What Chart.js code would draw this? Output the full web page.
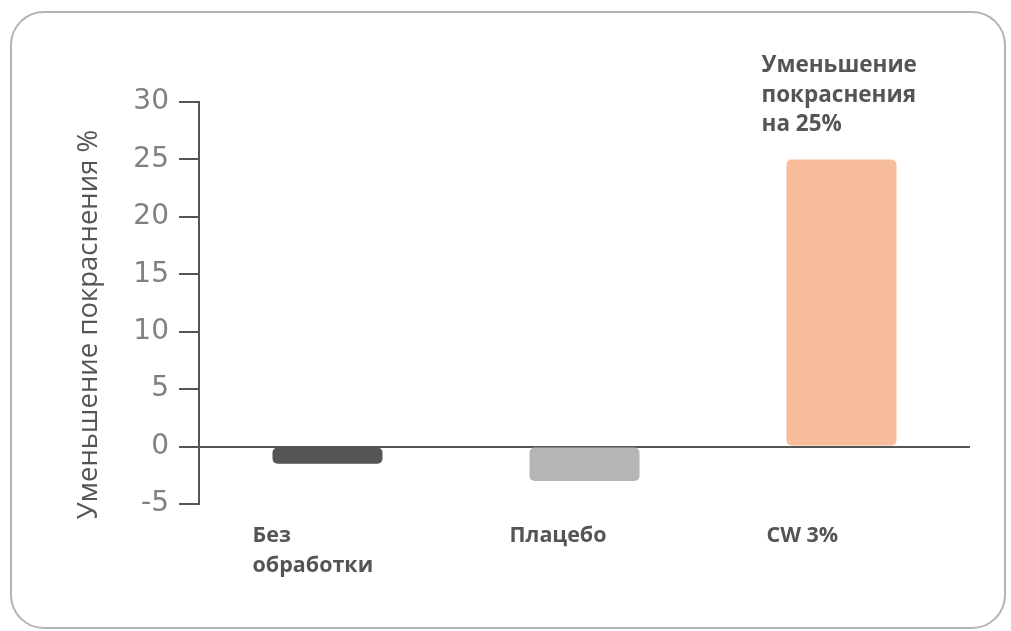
<!DOCTYPE html>
<html>
<head>
<meta charset="utf-8">
<script src="https://cdn.jsdelivr.net/npm/chart.js@4"></script>
<style>
  html, body { margin: 0; padding: 0; background: #fff; }
  #wrap { position: relative; width: 1011px; height: 631px; }
  #frame { position: absolute; left: 10px; top: 11px; width: 996px; height: 618px;
           border: 2px solid #b4b4b4; border-radius: 34px; box-sizing: border-box; }
  canvas { position: absolute; left: 0; top: 0; }
</style>
</head>
<body>
<div id="wrap">
  <div id="frame"></div>
  <canvas id="c" width="1011" height="631"></canvas>
</div>
<script>
const categories = [['Без', 'обработки'], 'Плацебо', 'CW 3%'];
const values = [-1.5, -3.0, 25];
const barColors = ['#555555', '#b5b5b5', '#f7bc9b'];
const yTicks = [30, 25, 20, 15, 10, 5, 0, -5];
const yTitle = 'Уменьшение покраснения %\u00a0\u00a0\u00a0\u00a0\u00a0\u00a0';
const annotationLines = ['Уменьшение', 'покраснения', 'на 25%'];
const annotationIndex = 2;

const annotationPlugin = {
  id: 'annot',
  afterDatasetsDraw(chart) {
    const ctx = chart.ctx;
    const xs = chart.scales.x, ys = chart.scales.y;
    const x = xs.getPixelForValue(annotationIndex) - 80;
    const top = ys.getPixelForValue(values[annotationIndex]);
    ctx.save();
    ctx.font = 'bold 22.5px "Open Sans"';
    ctx.fillStyle = '#555555';
    ctx.textAlign = 'left';
    ctx.textBaseline = 'alphabetic';
    const base = top - 87;
    annotationLines.forEach((t, i) => ctx.fillText(t, x, base + i * 29.5));
    ctx.restore();
  }
};

new Chart(document.getElementById('c'), {
  type: 'bar',
  data: {
    labels: categories,
    datasets: [{
      data: values,
      backgroundColor: barColors,
      borderRadius: 5,
      borderSkipped: false,
      barPercentage: 0.428,
      categoryPercentage: 1.0
    }]
  },
  options: {
    responsive: false,
    animation: false,
    events: [],
    layout: { padding: { left: 73, right: 41, top: 102, bottom: 0 } },
    plugins: { legend: { display: false }, tooltip: { enabled: false } },
    scales: {
      x: {
        grid: { display: false, drawTicks: false },
        border: { display: false },
        ticks: {
          align: 'start',
          labelOffset: -75,
          padding: 17,
          color: '#555555',
          font: { family: '"Open Sans"', size: 21.5, weight: 'bold', lineHeight: 1.4 }
        },
        afterFit(scale) { scale.height = 127; }
      },
      y: {
        min: -5,
        max: 30,
        afterBuildTicks(scale) { scale.ticks = yTicks.map(v => ({ value: v })); },
        grid: {
          drawOnChartArea: true,
          color: (c) => (c.tick && c.tick.value === 0) ? '#555555' : 'rgba(0,0,0,0)',
          tickColor: '#555555',
          tickLength: 20,
          lineWidth: 2
        },
        border: { display: true, color: '#555555', width: 2 },
        ticks: {
          padding: 10,
          color: '#808080',
          font: { family: '"DejaVu Sans"', size: 28 }
        },
        title: {
          display: true,
          text: yTitle,
          color: '#555555',
          padding: 0,
          font: { family: '"Open Sans"', size: 27.5, lineHeight: 1.2 }
        },
        afterFit(scale) { scale.width = 126; }
      }
    }
  },
  plugins: [annotationPlugin]
});
</script>
</body>
</html>
